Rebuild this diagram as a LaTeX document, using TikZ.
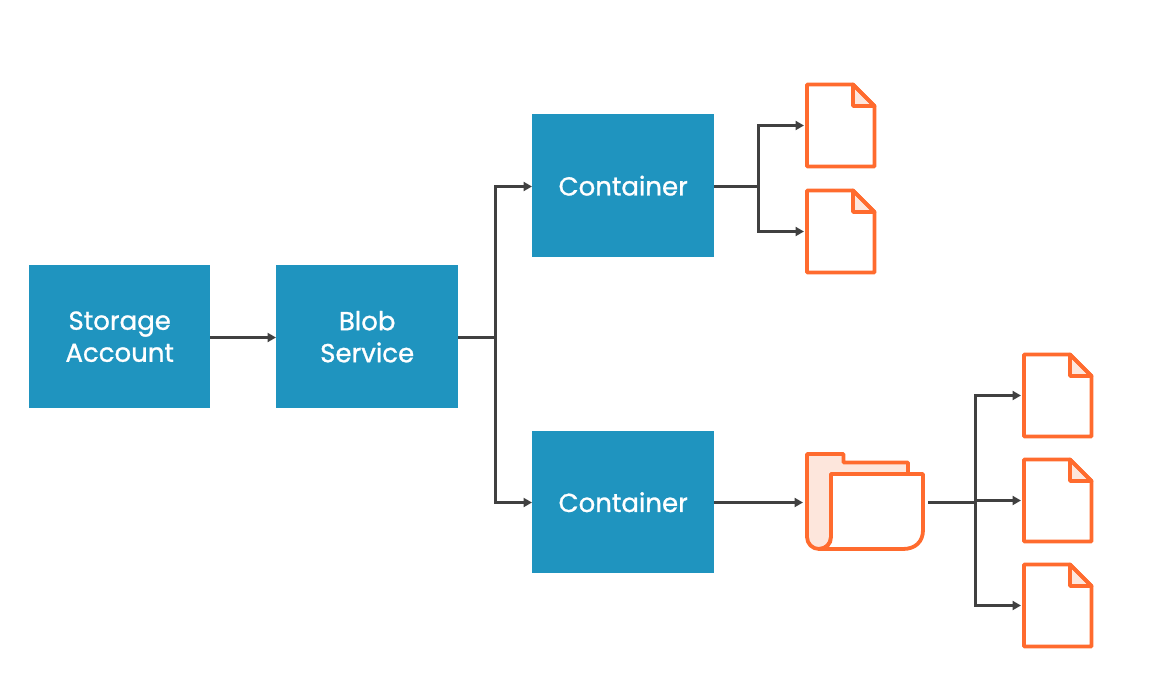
\documentclass[tikz,border=0pt]{standalone}
\usepackage{fontspec}
\setmainfont{Poppins}[FakeBold=1]
\usetikzlibrary{arrows.meta}
\definecolor{boxblue}{HTML}{1F94BF}
\definecolor{docorange}{HTML}{FF6B2E}
\definecolor{docfill}{HTML}{FDE6DC}
\definecolor{linegrey}{HTML}{404040}
\tikzset{
  x=1pt,y=-1pt,
  bluebox/.style={fill=boxblue,text=white,anchor=north west,inner sep=0pt,align=center,font=\fontsize{26}{32}\selectfont},
  conn/.style={draw=linegrey,line width=3pt},
  arr/.style={conn,-{Triangle[width=9pt,length=8.5pt]}},
  outline/.style={draw=docorange,line width=3.8pt,line join=round},
  slot/.style={inner sep=0pt,outer sep=0pt,minimum width=75pt,minimum height=82pt,anchor=north west},
}
\newcommand{\docshape}[3]{%
  \node[slot] (#1) at (#2-3,#3) {};
  \begin{scope}[shift={(#2,#3)}]
    \draw[outline,fill=docfill] (46,0) -- (46,21.5) -- (67.5,21.5) -- cycle;
    \draw[outline] (0,0) -- (46,0) -- (67.5,21.5) -- (67.5,82) -- (0,82) -- cycle;
  \end{scope}}
\begin{document}
\begin{tikzpicture}
\useasboundingbox (0,0) rectangle (1158,672);
\node[bluebox,minimum width=181pt,minimum height=143pt] (storage) at (29,265) {Storage\\Account};
\node[bluebox,minimum width=182pt,minimum height=143pt] (blob) at (276,265) {Blob\\Service};
\node[bluebox,minimum width=182pt,minimum height=143pt] (c1) at (532,114) {\raisebox{-1.5pt}{Container}};
\node[bluebox,minimum width=182pt,minimum height=142pt] (c2) at (532,431) {\raisebox{-1pt}{Container}};

\docshape{d1}{807}{84.5}
\docshape{d2}{807}{190.5}
\docshape{d3}{1024}{354.5}
\docshape{d4}{1024}{459.5}
\docshape{d5}{1024}{564.5}

% folder
\node[inner sep=0pt,outer sep=0pt,minimum width=128pt,minimum height=97pt,anchor=north west] (folder) at (803,454) {};
\draw[outline,fill=docfill] (807,454) -- (843.5,454) -- (843.5,462.5) -- (908,462.5) -- (908,474) -- (831,474) -- (831,537)
  arc[start angle=0,end angle=180,radius=12] -- cycle;
\draw[outline,fill=white] (831,474) -- (923,474) -- (923,530) .. controls (923,542) and (915,549) .. (903,549) -- (819,549)
  .. controls (826,549) and (831,544) .. (831,537) -- cycle;

% junctions
\coordinate (j0) at (495.5,337.5);
\coordinate (j1) at (758.5,186.5);
\coordinate (j2) at (975.5,502.5);
\coordinate (fo) at (928,502.5);

\draw[arr] (storage.east |- j0) -- (blob.west |- j0);
\draw[conn] (blob.east |- j0) -- (j0);
\draw[arr] (j0) |- (c1.west |- j1);
\draw[arr] (j0) |- (c2.west |- j2);

\draw[conn] (c1.east |- j1) -- (j1);
\draw[arr] (j1) |- (d1.west);
\draw[arr] (j1) |- (d2.west);

\draw[arr] (c2.east |- j2) -- (folder.west |- j2);
\draw[conn] (fo) -- (j2);
\draw[arr] (j2) |- (d3.west);
\draw[arr] (j2) |- (d4.west);
\draw[arr] (j2) |- (d5.west);
\end{tikzpicture}
\end{document}
